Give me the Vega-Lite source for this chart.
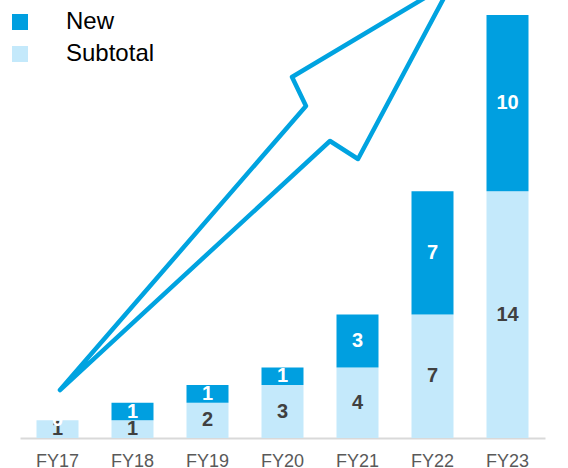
{
  "$schema": "https://vega.github.io/schema/vega-lite/v6.json",
  "width": 525,
  "height": 438,
  "autosize": "none",
  "padding": {"left": 20, "top": 0, "right": 23, "bottom": 30},
  "config": {"view": {"stroke": null}, "font": "Liberation Sans"},
  "resolve": {"scale": {"x": "independent"}},
  "layer": [
    {
      "data": {
        "values": [
          {"year": "FY17", "part": "Subtotal", "value": 1},
          {"year": "FY17", "part": "New", "value": 0},
          {"year": "FY18", "part": "Subtotal", "value": 1},
          {"year": "FY18", "part": "New", "value": 1},
          {"year": "FY19", "part": "Subtotal", "value": 2},
          {"year": "FY19", "part": "New", "value": 1},
          {"year": "FY20", "part": "Subtotal", "value": 3},
          {"year": "FY20", "part": "New", "value": 1},
          {"year": "FY21", "part": "Subtotal", "value": 4},
          {"year": "FY21", "part": "New", "value": 3},
          {"year": "FY22", "part": "Subtotal", "value": 7},
          {"year": "FY22", "part": "New", "value": 7},
          {"year": "FY23", "part": "Subtotal", "value": 14},
          {"year": "FY23", "part": "New", "value": 10}
        ]
      },
      "transform": [
        {"stack": "value", "groupby": ["year"], "sort": [{"field": "part", "order": "descending"}], "as": ["v0", "v1"]},
        {"calculate": "(datum.v0 + datum.v1) / 2", "as": "mid"}
      ],
      "encoding": {
        "x": {
          "field": "year",
          "type": "nominal",
          "scale": {"paddingInner": 0.44, "paddingOuter": 0.22},
          "axis": {
            "title": null,
            "labelAngle": 0,
            "ticks": false,
            "grid": false,
            "domainColor": "#d9d9d9",
            "domainWidth": 2,
            "labelColor": "#595959",
            "labelFontSize": 18,
            "labelPadding": 14,
            "labelBaseline": "top"
          }
        }
      },
      "layer": [
        {
          "mark": {"type": "bar"},
          "encoding": {
            "y": {"field": "v0", "type": "quantitative", "scale": {"domain": [0, 24.85], "nice": false}, "axis": null},
            "y2": {"field": "v1"},
            "color": {
              "field": "part",
              "type": "nominal",
              "scale": {"domain": ["New", "Subtotal"], "range": ["#009fe0", "#c4e9fb"]},
              "legend": {
                "title": null,
                "orient": "none",
                "legendX": -12,
                "legendY": 10,
                "padding": 0,
                "symbolType": "square",
                "symbolSize": 256,
                "symbolStrokeWidth": 0,
                "labelFontSize": 24,
                "labelColor": "#000000",
                "labelOffset": 34,
                "rowPadding": 8
              }
            }
          }
        },
        {
          "mark": {"type": "text", "fontSize": 20, "fontWeight": "bold", "baseline": "middle"},
          "encoding": {
            "y": {"field": "mid", "type": "quantitative", "scale": {"domain": [0, 24.85], "nice": false}},
            "text": {"field": "value", "type": "quantitative"},
            "color": {
              "condition": {"test": "datum.part === 'New'", "value": "#ffffff"},
              "value": "#404040"
            }
          }
        }
      ]
    },
    {
      "data": {
        "values": [
          {"k": 1, "i": 0.033, "v": 2.72},
          {"k": 2, "i": 3.313, "v": 18.84},
          {"k": 3, "i": 3.127, "v": 20.48},
          {"k": 4, "i": 5.273, "v": 25.93},
          {"k": 5, "i": 4.007, "v": 15.83},
          {"k": 6, "i": 3.633, "v": 16.85},
          {"k": 7, "i": 0.033, "v": 2.72}
        ]
      },
      "mark": {"type": "line", "color": "#00a3e0", "strokeWidth": 4.5, "strokeJoin": "round", "strokeCap": "round"},
      "encoding": {
        "x": {"field": "i", "type": "quantitative", "scale": {"domain": [-0.5, 6.5], "nice": false, "zero": false}, "axis": null},
        "y": {"field": "v", "type": "quantitative", "scale": {"domain": [0, 24.85], "nice": false}},
        "order": {"field": "k", "type": "quantitative"}
      }
    }
  ]
}
